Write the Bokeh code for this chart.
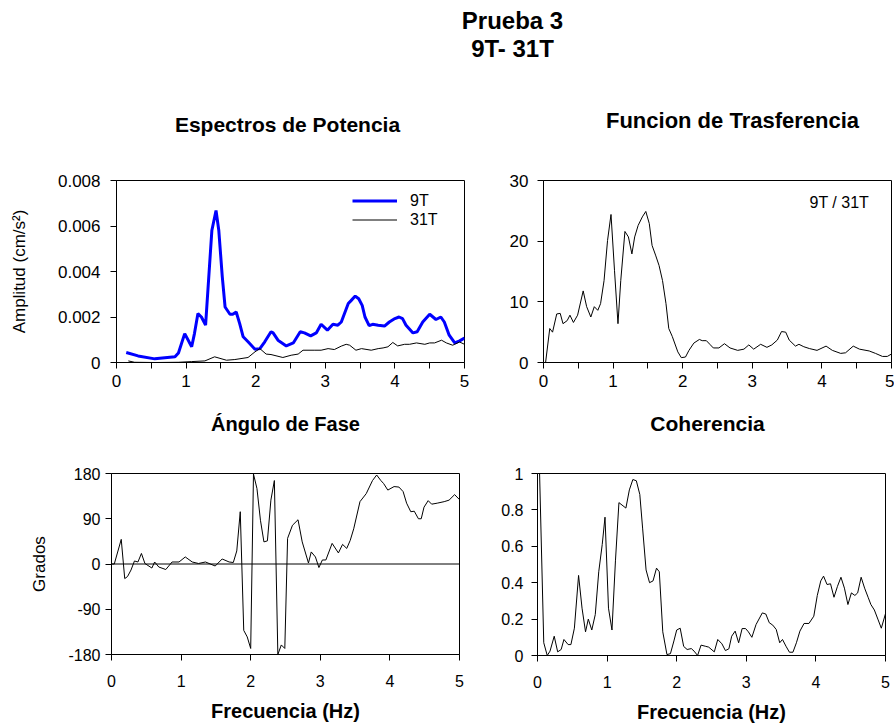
from bokeh.plotting import figure
from bokeh.layouts import column, row
from bokeh.models import (Range1d, Legend, LegendItem, Label, Span, FixedTicker,
                          CustomJSTickFormatter)
from bokeh.embed import file_html
from bokeh.resources import INLINE

FONT = "Liberation Sans"

# ---------------- data ----------------
main_title = ["Prueba 3", "9T- 31T"]
panel_titles = ["Espectros de Potencia", "Funcion de Trasferencia", "Ángulo de Fase", "Coherencia"]
xlabel = "Frecuencia (Hz)"

# Power spectra 9T
f_9t = [0.14, 0.31, 0.55, 0.84, 0.89, 0.98, 1.08, 1.12, 1.17, 1.22, 1.28, 1.37, 1.43, 1.47, 1.52,
        1.56, 1.63, 1.67, 1.72, 1.77, 1.82, 1.89, 1.99, 2.06, 2.13, 2.22, 2.25, 2.32, 2.44, 2.54,
        2.64, 2.70, 2.79, 2.87, 2.94, 3.03, 3.11, 3.18, 3.23, 3.33, 3.37, 3.43, 3.48, 3.53, 3.57,
        3.63, 3.68, 3.76, 3.85, 3.92, 4.00, 4.06, 4.11, 4.16, 4.26, 4.32, 4.40, 4.50, 4.59, 4.66,
        4.71, 4.78, 4.86, 4.93, 5.00]
a_9t = [0.00044, 0.00029, 0.00016, 0.00025, 0.00042, 0.00127, 0.00069, 0.00127, 0.00215, 0.00200,
        0.00164, 0.00580, 0.00668, 0.00580, 0.00376, 0.00244, 0.00212, 0.00212, 0.00222, 0.00171,
        0.00113, 0.00091, 0.00058, 0.00061, 0.00091, 0.00135, 0.00130, 0.00098, 0.00073, 0.00086,
        0.00135, 0.00130, 0.00117, 0.00130, 0.00168, 0.00142, 0.00168, 0.00164, 0.00178, 0.00259,
        0.00272, 0.00292, 0.00280, 0.00251, 0.00200, 0.00162, 0.00168, 0.00164, 0.00160, 0.00178,
        0.00193, 0.00200, 0.00193, 0.00164, 0.00130, 0.00135, 0.00178, 0.00212, 0.00189, 0.00200,
        0.00178, 0.00120, 0.00086, 0.00095, 0.00108]

# Power spectra 31T
f_31t = [0.17, 0.26, 0.55, 0.89, 1.08, 1.27, 1.41, 1.58, 1.70, 1.89, 1.99, 2.06, 2.15, 2.22, 2.39,
         2.51, 2.61, 2.68, 2.85, 2.94, 3.04, 3.13, 3.23, 3.30, 3.35, 3.44, 3.52, 3.66, 3.76, 3.83,
         3.90, 3.97, 4.04, 4.14, 4.21, 4.31, 4.43, 4.50, 4.57, 4.67, 4.74, 4.83, 4.93, 5.00]
a_31t = [0.00007, 0.00001, 0.0, 0.00001, 0.00004, 0.00007, 0.00025, 0.00010, 0.00013, 0.00022,
         0.00047, 0.00061, 0.00037, 0.00035, 0.00022, 0.00032, 0.00037, 0.00054, 0.00054, 0.00054,
         0.00061, 0.00057, 0.00072, 0.00080, 0.00076, 0.00054, 0.00061, 0.00054, 0.00061, 0.00064,
         0.00069, 0.00088, 0.00073, 0.00080, 0.00080, 0.00086, 0.00080, 0.00086, 0.00086, 0.00098,
         0.00086, 0.00076, 0.00090, 0.00080]

# Transfer function 9T / 31T
f_tf = [0.0, 0.03, 0.09, 0.13, 0.19, 0.24, 0.28, 0.34, 0.38, 0.43, 0.49, 0.57, 0.62, 0.68, 0.73,
        0.78, 0.82, 0.87, 0.92, 0.97, 1.02, 1.07, 1.11, 1.17, 1.22, 1.27, 1.31, 1.36, 1.42, 1.47,
        1.52, 1.56, 1.61, 1.66, 1.71, 1.76, 1.80, 1.85, 1.93, 1.98, 2.04, 2.09, 2.16, 2.24, 2.28,
        2.34, 2.39, 2.44, 2.52, 2.60, 2.68, 2.79, 2.88, 2.95, 3.02, 3.12, 3.21, 3.28, 3.36, 3.42,
        3.48, 3.53, 3.62, 3.67, 3.74, 3.82, 3.93, 4.06, 4.15, 4.27, 4.34, 4.45, 4.54, 4.68, 4.77,
        4.87, 4.94, 5.00]
a_tf = [0.0, 0.0, 5.6, 5.0, 8.0, 8.1, 6.4, 6.9, 7.8, 6.6, 7.8, 11.8, 9.2, 7.5, 9.2,
        8.6, 9.7, 13.5, 20.1, 24.4, 15.2, 6.4, 13.5, 21.6, 20.7, 17.9, 20.7, 22.6, 24.0, 24.9,
        22.9, 19.3, 17.7, 16.0, 13.5, 9.7, 5.6, 4.3, 1.75, 0.8, 0.9, 2.0, 3.2, 3.8, 3.6,
        3.6, 3.0, 2.4, 2.4, 3.1, 2.4, 2.0, 2.2, 2.9, 2.2, 3.0, 2.5, 2.9, 3.7, 5.1,
        5.0, 3.7, 2.7, 3.0, 2.6, 2.3, 2.0, 2.7, 2.0, 1.5, 1.6, 2.7, 2.2, 1.9, 1.5,
        1.0, 1.0, 1.4]

# Phase angle
f_ph = [0.0, 0.04, 0.14, 0.19, 0.23, 0.28, 0.33, 0.38, 0.43, 0.48, 0.58, 0.62, 0.68, 0.78, 0.87,
        0.97, 1.06, 1.16, 1.25, 1.35, 1.49, 1.59, 1.69, 1.75, 1.80, 1.85, 1.90, 1.95, 2.00, 2.04,
        2.09, 2.14, 2.19, 2.24, 2.29, 2.34, 2.39, 2.44, 2.49, 2.53, 2.60, 2.68, 2.74, 2.83, 2.87,
        2.93, 2.98, 3.03, 3.08, 3.17, 3.26, 3.32, 3.38, 3.43, 3.48, 3.57, 3.66, 3.75, 3.81, 3.87,
        3.91, 3.97, 4.06, 4.13, 4.19, 4.24, 4.30, 4.35, 4.41, 4.45, 4.49, 4.55, 4.60, 4.68, 4.78,
        4.85, 4.93, 5.00]
a_ph = [0, 0, 49, -29, -25, -12, 6, 4, 21, 1, -8, 4, -6, -11, 4,
        4, 14, 4, 1, 4, -4, 10, 4, 3, 26, 104, -132, -145, -168, 179,
        150, 87, 44, 46, 127, 166, -180, -161, -168, 51, 77, 88, 44, 2, 24,
        14, -7, 8, 8, 41, 22, 39, 31, 47, 70, 124, 140, 166, 177, 166,
        160, 147, 154, 153, 144, 121, 104, 105, 90, 90, 113, 126, 119, 121, 124,
        127, 138, 128]

# Coherence
f_co = [0.0, 0.03, 0.09, 0.14, 0.18, 0.24, 0.29, 0.34, 0.38, 0.44, 0.48, 0.53, 0.59, 0.64, 0.69,
        0.73, 0.78, 0.83, 0.88, 0.93, 0.97, 1.02, 1.07, 1.12, 1.17, 1.27, 1.32, 1.37, 1.42, 1.47,
        1.51, 1.56, 1.61, 1.66, 1.71, 1.75, 1.80, 1.86, 1.91, 1.96, 2.00, 2.05, 2.10, 2.15, 2.21,
        2.25, 2.30, 2.35, 2.41, 2.46, 2.54, 2.59, 2.65, 2.70, 2.75, 2.79, 2.84, 2.89, 2.94, 2.99,
        3.03, 3.08, 3.14, 3.23, 3.28, 3.33, 3.38, 3.43, 3.48, 3.52, 3.57, 3.62, 3.67, 3.72, 3.77,
        3.83, 3.90, 3.97, 4.02, 4.07, 4.11, 4.16, 4.21, 4.26, 4.31, 4.36, 4.41, 4.46, 4.51, 4.56,
        4.60, 4.65, 4.70, 4.75, 4.79, 4.84, 4.89, 4.94, 5.00]
a_co = [1.0, 1.0, 0.07, 0.0, 0.024, 0.106, 0.02, 0.033, 0.088, 0.06, 0.06, 0.15, 0.44, 0.26, 0.13,
        0.20, 0.14, 0.225, 0.46, 0.61, 0.76, 0.26, 0.14, 0.52, 0.84, 0.81, 0.91, 0.967, 0.96, 0.885,
        0.70, 0.47, 0.40, 0.41, 0.48, 0.46, 0.13, 0.005, 0.01, 0.08, 0.14, 0.15, 0.05, 0.033, 0.038,
        0.024, 0.0, 0.057, 0.051, 0.046, 0.02, 0.088, 0.064, 0.027, 0.037, 0.106, 0.134, 0.07, 0.148, 0.148,
        0.13, 0.10, 0.17, 0.234, 0.228, 0.18, 0.167, 0.143, 0.07, 0.088, 0.051, 0.018, 0.018, 0.07, 0.134,
        0.176, 0.176, 0.216, 0.33, 0.41, 0.436, 0.39, 0.394, 0.32, 0.38, 0.43, 0.37, 0.28, 0.344, 0.33,
        0.344, 0.43, 0.37, 0.32, 0.28, 0.25, 0.20, 0.15, 0.23]

x_major = [0, 1, 2, 3, 4, 5]
x_minor_top = [0.5, 1.5, 2.5, 3.5, 4.5]
y_ticks_ps = [0, 0.002, 0.004, 0.006, 0.008]
y_ticks_tf = [0, 10, 20, 30]
y_ticks_ph = [-180, -90, 0, 90, 180]
y_ticks_co = [0, 0.2, 0.4, 0.6, 0.8, 1]

fmt = CustomJSTickFormatter(code="return tick.toString()")


def header(height, texts):
    """A text-only strip; texts = list of (text, x_center, y_from_top, size)."""
    h = figure(width=894, height=height, x_range=Range1d(0, 894), y_range=Range1d(0, height),
               x_axis_type=None, y_axis_type=None, min_border=0,
               toolbar_location=None, output_backend="svg")
    h.outline_line_color = None
    h.border_fill_color = "white"
    for txt, xc, yt, size in texts:
        h.add_layout(Label(x=xc, y=height - yt, text=txt, text_align="center",
                           text_baseline="middle", text_font=FONT, text_font_size=size,
                           text_font_style="bold", text_color="black"))
    return h


def make_fig(frame_h, mb_left, mb_right, mb_top, mb_bottom, y_range, y_ticks, minor_x, tick_size):
    p = figure(frame_width=348, frame_height=frame_h,
               min_border_left=mb_left, min_border_right=mb_right,
               min_border_top=mb_top, min_border_bottom=mb_bottom,
               x_range=Range1d(0, 5), y_range=y_range,
               toolbar_location=None, output_backend="svg")
    p.background_fill_color = "white"
    p.border_fill_color = "white"
    p.outline_line_color = "black"
    p.outline_line_width = 1
    p.xgrid.visible = False
    p.ygrid.visible = False
    p.xaxis.ticker = FixedTicker(ticks=x_major, minor_ticks=minor_x)
    p.yaxis.ticker = FixedTicker(ticks=y_ticks, minor_ticks=[])
    p.yaxis.formatter = fmt
    for ax in (p.xaxis[0], p.yaxis[0]):
        ax.axis_line_color = "black"
        ax.major_tick_line_color = "black"
        ax.minor_tick_line_color = "black"
        ax.major_tick_in = 0
        ax.major_tick_out = 6
        ax.minor_tick_in = 0
        ax.minor_tick_out = 6
        ax.major_label_text_font = FONT
        ax.major_label_text_font_size = tick_size
        ax.major_label_text_color = "black"
        ax.axis_label_text_font = FONT
        ax.axis_label_text_color = "black"
    return p


# ---------- header strips ----------
h_top = header(150, [(main_title[0], 512, 20, "24px"), (main_title[1], 512, 48, "24px"),
                     (panel_titles[0], 287, 124, "21px"), (panel_titles[1], 732, 120, "22px")])
h_mid = header(50, [(panel_titles[2], 285, 23, "20px"), (panel_titles[3], 707, 23, "21px")])

# ---------- Espectros de Potencia ----------
p1 = make_fig(182, 116, 36, 30, 38, Range1d(0, 0.008), y_ticks_ps, x_minor_top, "17px")
p1.xaxis.major_label_standoff = 6
p1.yaxis.major_label_standoff = 10
p1.yaxis.axis_label = "Amplitud (cm/s²)"
p1.yaxis.axis_label_text_font_size = "17px"
p1.yaxis.axis_label_text_font_style = "normal"
p1.yaxis.axis_label_standoff = 26
r9 = p1.line(f_9t, a_9t, line_color="#0000FF", line_width=3)
r31 = p1.line(f_31t, a_31t, line_color="black", line_width=1)
leg = Legend(items=[LegendItem(label="9T", renderers=[r9]), LegendItem(label="31T", renderers=[r31])],
             location=(236, 133), border_line_color=None, background_fill_alpha=0,
             padding=0, margin=0, spacing=0, label_height=19, glyph_height=19, glyph_width=45,
             label_standoff=13, label_text_font=FONT, label_text_font_size="16px",
             label_text_color="black")
p1.add_layout(leg)

# ---------- Funcion de Trasferencia ----------
p2 = make_fig(182, 43, 3, 30, 38, Range1d(0, 30), y_ticks_tf, x_minor_top, "17px")
p2.xaxis.major_label_standoff = 6
p2.yaxis.major_label_standoff = 9
p2.line(f_tf, a_tf, line_color="black", line_width=1)
p2.add_layout(Label(x=4.25, y=26.4, text="9T / 31T", text_align="center", text_baseline="middle",
                    text_font=FONT, text_font_size="16px", text_color="black"))

# ---------- Ángulo de Fase ----------
p3 = make_fig(181, 111, 36, 23, 71, Range1d(-180, 180), y_ticks_ph, [], "16px")
p3.xaxis.major_label_standoff = 14
p3.yaxis.major_label_standoff = 5
p3.yaxis.axis_label = "Grados"
p3.yaxis.axis_label_text_font_size = "17px"
p3.yaxis.axis_label_text_font_style = "normal"
p3.yaxis.axis_label_standoff = 16
p3.xaxis.axis_label = xlabel
p3.xaxis.axis_label_text_font_size = "20px"
p3.xaxis.axis_label_text_font_style = "bold"
p3.xaxis.axis_label_standoff = 10
p3.add_layout(Span(location=0, dimension="width", line_color="black", line_width=1))
p3.line(f_ph, a_ph, line_color="black", line_width=1)

# ---------- Coherencia ----------
p4 = make_fig(182, 42, 9, 22, 71, Range1d(0, 1), y_ticks_co, [], "16px")
p4.xaxis.major_label_standoff = 14
p4.yaxis.major_label_standoff = 8
p4.xaxis.axis_label = xlabel
p4.xaxis.axis_label_text_font_size = "20px"
p4.xaxis.axis_label_text_font_style = "bold"
p4.xaxis.axis_label_standoff = 10
p4.line(f_co, a_co, line_color="black", line_width=1)

layout = column(h_top, row(p1, p2), h_mid, row(p3, p4))

open("out.html", "w").write(file_html(layout, INLINE))
